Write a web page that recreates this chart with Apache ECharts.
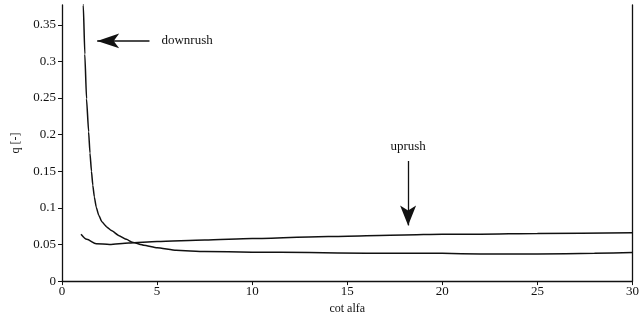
<!DOCTYPE html>
<html>
<head>
<meta charset="utf-8">
<script src="https://cdn.jsdelivr.net/npm/echarts@6/dist/echarts.min.js"></script>
<style>
  html, body { margin: 0; padding: 0; background: #fff; }
  #chart { width: 642px; height: 320px; }
</style>
</head>
<body>
<div id="chart"></div>
<script>
// Wave overtopping ratio q versus slope (cot alfa)
const downrushX = [1.08, 1.12, 1.2, 1.29, 1.4, 1.47, 1.55, 1.62, 1.7, 1.8, 1.93, 2.1, 2.35, 2.6, 3.0, 3.39, 3.7, 4.3, 5.0, 6.0, 7.5, 10, 13, 16, 20, 22, 25, 28, 30];
const downrushQ = [0.40, 0.377, 0.31, 0.249, 0.204, 0.175, 0.15, 0.131, 0.115, 0.101, 0.09, 0.081, 0.074, 0.069, 0.062, 0.057, 0.053, 0.049, 0.0455, 0.042, 0.0405, 0.0395, 0.039, 0.038, 0.038, 0.037, 0.037, 0.038, 0.039];

const uprushX = [1.0, 1.3, 1.8, 2.5, 3.5, 5, 7.5, 10, 14, 18, 20, 22, 25, 30];
const uprushQ = [0.064, 0.057, 0.051, 0.050, 0.052, 0.054, 0.056, 0.058, 0.061, 0.063, 0.064, 0.064, 0.065, 0.066];

const xTicks = [0, 5, 10, 15, 20, 25, 30];
const yTicks = [0, 0.05, 0.1, 0.15, 0.2, 0.25, 0.3, 0.35];

// Annotation arrows, in data units: [x, q] start -> end
const downrushArrow = [[4.6, 0.328], [1.85, 0.328]];
const uprushArrow = [[18.2, 0.164], [18.2, 0.076]];

const ink = '#111';
const serif = '"Liberation Serif", "DejaVu Serif", serif';

const pairs = (xs, ys) => xs.map((x, i) => [x, ys[i]]);

const chart = echarts.init(document.getElementById('chart'));
chart.setOption({
  animation: false,
  backgroundColor: '#fff',
  grid: { left: 62, right: 7, top: 5, bottom: 36 },
  xAxis: {
    type: 'value', min: 0, max: 30, interval: 5,
    name: 'cot alfa', nameLocation: 'middle', nameGap: 20,
    nameTextStyle: { color: ink, fontFamily: serif, fontSize: 12 },
    axisLine: { lineStyle: { color: ink, width: 1.3 } },
    axisTick: { length: 4, lineStyle: { color: ink }, customValues: xTicks },
    axisLabel: { color: ink, fontFamily: serif, fontSize: 13, margin: 4, customValues: xTicks },
    splitLine: { show: false }
  },
  yAxis: [{
    type: 'value', min: 0, max: 0.377,
    name: 'q [-]', nameLocation: 'middle', nameGap: 40, nameRotate: 90,
    nameTextStyle: { color: ink, fontFamily: serif, fontSize: 12 },
    axisLine: { show: true, lineStyle: { color: ink, width: 1.3 } },
    axisTick: { show: true, length: 4, lineStyle: { color: ink }, customValues: yTicks },
    axisLabel: { color: ink, fontFamily: serif, fontSize: 13, margin: 6, customValues: yTicks,
      formatter: v => String(v) },
    splitLine: { show: false }
  }, {
    type: 'value', min: 0, max: 0.377, position: 'right',
    axisLine: { show: true, lineStyle: { color: ink, width: 1.3 } },
    axisTick: { show: false }, axisLabel: { show: false }, splitLine: { show: false }
  }],
  series: [{
    name: 'downrush', type: 'line', data: pairs(downrushX, downrushQ),
    showSymbol: false, smooth: 0.15, smoothMonotone: 'x', clip: true,
    lineStyle: { color: ink, width: 1.5 },
    markLine: {
      silent: true, symbol: ['none', 'arrow'], symbolSize: [11, 22],
      lineStyle: { color: ink, width: 1.5, type: 'solid' },
      label: { show: true, position: 'start', formatter: 'downrush', distance: 12,
        color: ink, fontFamily: serif, fontSize: 13 },
      data: [[{ coord: downrushArrow[0] }, { coord: downrushArrow[1] }]]
    }
  }, {
    name: 'uprush', type: 'line', data: pairs(uprushX, uprushQ),
    showSymbol: false, smooth: 0.25, smoothMonotone: 'x', clip: true,
    lineStyle: { color: ink, width: 1.5 },
    markLine: {
      silent: true, symbol: ['none', 'arrow'], symbolSize: [12, 20],
      lineStyle: { color: ink, width: 1.3, type: 'solid' },
      label: { show: true, position: 'start', formatter: 'uprush', distance: 8,
        color: ink, fontFamily: serif, fontSize: 13 },
      data: [[{ coord: uprushArrow[0] }, { coord: uprushArrow[1] }]]
    }
  }]
});
</script>
</body>
</html>
